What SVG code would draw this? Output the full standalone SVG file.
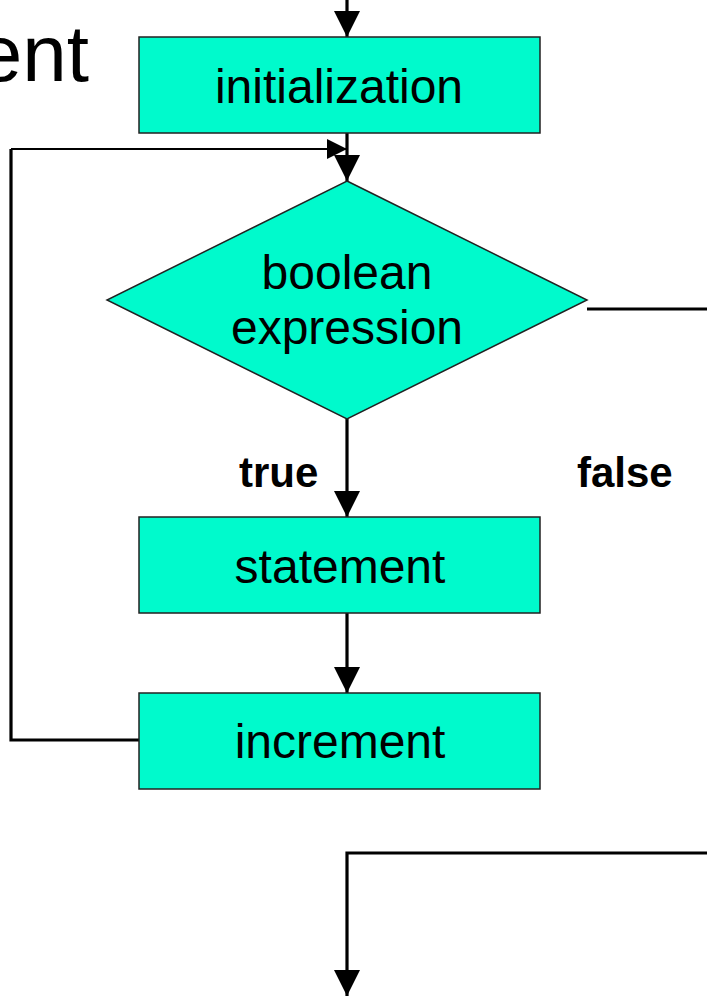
<svg xmlns="http://www.w3.org/2000/svg" width="707" height="996" viewBox="0 0 707 996">
<style>
.box{fill:#00FACC;stroke:#222;stroke-width:1.5}
.lbl{font-family:"Liberation Sans",Arial,sans-serif;font-size:48px;fill:#000;text-anchor:middle}
.edge{font-family:"Liberation Sans",Arial,sans-serif;font-size:42px;font-weight:bold;fill:#000}
.conn{fill:none;stroke:#000;stroke-width:3.2}
</style>
<defs>
<marker id="ah" viewBox="0 0 26 26" refX="26" refY="13" markerWidth="26" markerHeight="26" markerUnits="userSpaceOnUse" orient="auto">
<path d="M0,0 L26,13 L0,26 z" fill="#000"/>
</marker>
<marker id="ahs" viewBox="0 0 20 20" refX="20" refY="10" markerWidth="20" markerHeight="20" markerUnits="userSpaceOnUse" orient="auto">
<path d="M0,0 L20,10 L0,20 z" fill="#000"/>
</marker>
</defs>
<rect width="707" height="996" fill="#fff"/>
<text x="89" y="81" font-family="Liberation Sans, Arial, sans-serif" font-size="80" text-anchor="end">ent</text>
<g id="connectors">
<line class="conn" x1="347" y1="0" x2="347" y2="37" marker-end="url(#ah)"/>
<line class="conn" x1="347" y1="133" x2="347" y2="181" marker-end="url(#ah)"/>
<path class="conn" d="M139,740 H11 V149"/>
<path d="M11,149 H347" fill="none" stroke="#000" stroke-width="2" marker-end="url(#ahs)"/>
<line class="conn" x1="347" y1="419" x2="347" y2="517" marker-end="url(#ah)"/>
<line class="conn" x1="347" y1="613" x2="347" y2="693" marker-end="url(#ah)"/>
<path class="conn" d="M587,309 H707"/>
<path class="conn" d="M707,853 H347 V996" marker-end="url(#ah)"/>
</g>
<g id="init">
<rect class="box" x="139" y="37" width="401" height="96"/>
<text class="lbl" x="339" y="103">initialization</text>
</g>
<g id="cond">
<polygon class="box" points="347,181 587,300 347,419 107,300"/>
<text class="lbl" x="347" y="289">boolean</text>
<text class="lbl" x="347" y="344">expression</text>
</g>
<g id="stmt">
<rect class="box" x="139" y="517" width="401" height="96"/>
<text class="lbl" x="340" y="583">statement</text>
</g>
<g id="incr">
<rect class="box" x="139" y="693" width="401" height="96"/>
<text class="lbl" x="340" y="758">increment</text>
</g>
<g id="labels">
<text class="edge" x="239" y="487">true</text>
<text class="edge" x="577" y="487">false</text>
</g>
</svg>
